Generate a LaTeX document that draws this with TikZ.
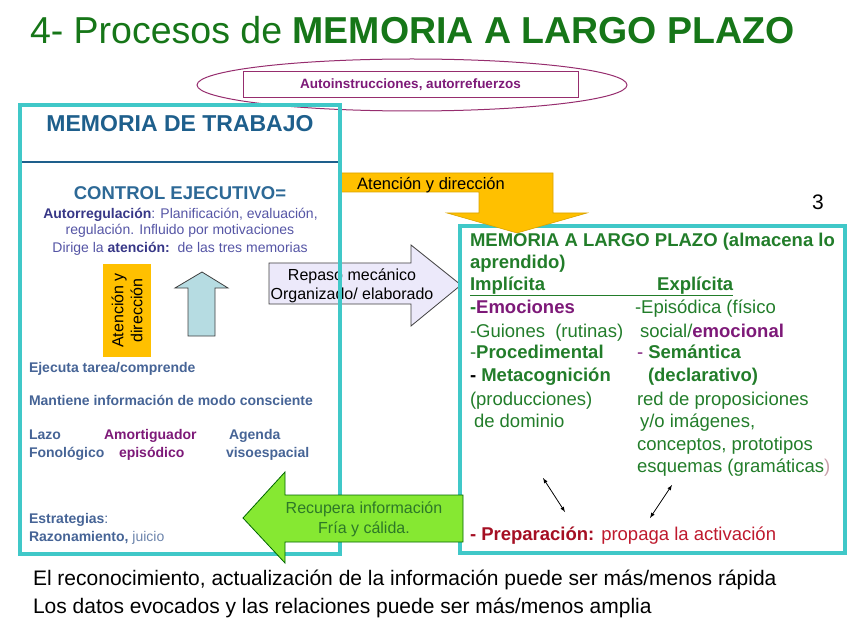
\documentclass[tikz,border=0pt]{standalone}
\usepackage{fontspec}
\setmainfont{Liberation Sans}
\usepackage{tikz}

\definecolor{verdetit}{RGB}{22,118,24}
\definecolor{ciruela}{RGB}{150,45,110}
\definecolor{morado}{RGB}{125,25,120}
\definecolor{turquesa}{RGB}{64,200,200}
\definecolor{azulmt}{RGB}{30,95,140}
\definecolor{azulce}{RGB}{45,105,150}
\definecolor{lila}{RGB}{85,85,165}
\definecolor{lilaosc}{RGB}{55,55,135}
\definecolor{azulgris}{RGB}{70,100,150}
\definecolor{naranja}{RGB}{255,192,0}
\definecolor{celeste}{RGB}{182,220,226}
\definecolor{lavanda}{RGB}{236,233,250}
\definecolor{lima}{RGB}{134,232,50}
\definecolor{verdemlp}{RGB}{34,125,42}
\definecolor{verdeflecha}{RGB}{45,120,40}
\definecolor{rojo}{RGB}{190,25,45}
\definecolor{rojoosc}{RGB}{165,15,35}
\definecolor{rosa}{RGB}{200,160,170}

\newcommand{\tam}[1]{\fontsize{#1}{#1}\selectfont}

\begin{document}
\begin{tikzpicture}[x=1pt,y=-1pt,
    txt/.style={anchor=base west, inner sep=0pt, outer sep=0pt},
    ctxt/.style={anchor=base, inner sep=0pt, outer sep=0pt},
    bloque/.style={draw=black!75, line width=0.8pt, line join=miter}]
\useasboundingbox (0,0) rectangle (848,636);

% titulo
\node[txt, font=\tam{37.5}, text=verdetit] (titulo) at (30,44)
    {4- Procesos de \textbf{MEMORIA A LARGO PLAZO}};

% elipse con autoinstrucciones
\draw[ciruela, line width=1pt] (412,85) ellipse [x radius=215, y radius=26];
\node[draw=ciruela, line width=1pt, fill=white, minimum width=335pt, minimum height=26pt,
      inner sep=0pt, font=\bfseries\tam{13.5}, text=morado] (auto) at (410.5,85)
    {Autoinstrucciones, autorrefuerzos};

% flecha repaso (bajo el borde)
\draw[bloque, fill=lavanda] (269,263) -- (411,263) -- (411,245) -- (461,285)
    -- (411,326) -- (411,304) -- (269,304) -- cycle;
\node[ctxt, font=\tam{16}] (repaso) at (352,280) {Repaso mecánico};
\node[ctxt, font=\tam{16}] (organ) at (352,299) {Organizado/ elaborado};

% memoria a largo plazo
\draw[turquesa, line width=3.5pt] (460,226) rectangle (845,553);

% flecha atencion y direccion
\draw[draw=naranja!85!black, line width=0.6pt, fill=naranja] (341,173) -- (553,173)
    -- (553,213) -- (587,213) -- (517,233) -- (447,213) -- (479,213)
    -- (479,192) -- (341,192) -- cycle;
\node[ctxt, font=\tam{16.5}] (atencion) at (431,190) {Atención y dirección};

% memoria de trabajo
\draw[turquesa, line width=4.5pt] (20,105) rectangle (340,554);
\draw[azulmt, line width=2.5pt] (22,162) -- (338,162);
\node[ctxt, font=\bfseries\tam{23}, text=azulmt] (mt) at (180,132) {MEMORIA DE TRABAJO};
\node[ctxt, font=\bfseries\tam{18.5}, text=azulce] (ce) at (180,200) {CONTROL EJECUTIVO=};
\node[ctxt, font=\tam{14}, text=lila] (ce1) at (180.5,219)
    {\textcolor{lilaosc}{\textbf{Autorregulación}}: Planificación, evaluación,};
\node[ctxt, font=\tam{14}, text=lila] (ce2) at (180,235) {regulación. Influido por motivaciones};
\node[ctxt, font=\tam{14}, text=lila] (ce3) at (180,252)
    {Dirige la \textcolor{lilaosc}{\textbf{atención:}}\ \ de las tres memorias};

% atencion (vertical) y flecha hacia arriba
\node[fill=naranja, rotate=90, minimum width=93pt, minimum height=48pt, inner sep=0pt,
      align=center, font=\fontsize{16}{19}\selectfont] (atdir) at (127,310.5)
    {Atención y\\dirección};
\draw[bloque, fill=celeste] (188,336) -- (188,288) -- (175,288) -- (202,272)
    -- (228,288) -- (215,288) -- (215,336) -- cycle;

% funciones
\begin{scope}[font=\bfseries\tam{14}, text=azulgris]
\node[txt] (ejecuta) at (29,372) {Ejecuta tarea/comprende};
\node[txt] (mantiene) at (29,405) {Mantiene información de modo consciente};
\node[txt] (lazo) at (29,439) {Lazo};
\node[txt, text=morado] (amort) at (104,439) {Amortiguador};
\node[txt] (agenda) at (229,439) {Agenda};
\node[txt] (fono) at (29,457) {Fonológico};
\node[txt, text=morado] (episod) at (119,457) {episódico};
\node[txt] (viso) at (226,457) {visoespacial};
\node[txt] (estrat) at (29,523) {Estrategias\textmd{:}};
\node[txt] (razon) at (29,541) {Razonamiento, \textmd{\textcolor{azulgris!80}{juicio}}};
\end{scope}

% contenido largo plazo
\begin{scope}[font=\tam{18.5}, text=verdemlp]
\node[txt, font=\bfseries\tam{18.5}] (mlp1) at (470,247) {MEMORIA A LARGO PLAZO (almacena lo};
\node[txt, font=\bfseries\tam{18.5}] (mlp2) at (470,269) {aprendido)};
\node[txt] (tipos) at (470,290)
    {\underline{\textbf{Implícita}\hspace{112pt}\textbf{Explícita}}};
\node[txt] (emoc) at (470,313) {\textbf{-\textcolor{morado}{Emociones}}};
\node[txt] (episodica) at (635,313) {-Episódica (físico};
\node[txt] (guiones) at (470,337) {-Guiones\ \ (rutinas)};
\node[txt] (social) at (640,337) {social/\textcolor{morado}{\textbf{emocional}}};
\node[txt] (proced) at (470,358) {-\textbf{Procedimental}};
\node[txt] (seman) at (637,358) {\textcolor{morado}{-} \textbf{Semántica}};
\node[txt] (meta) at (470,381) {\textbf{\textcolor{black}{-} Metacognición}};
\node[txt] (declar) at (648,381) {\textbf{(declarativo)}};
\node[txt] (produc) at (470,405) {(producciones)};
\node[txt] (red) at (637,405) {red de proposiciones};
\node[txt] (dominio) at (474,427) {de dominio};
\node[txt] (imag) at (640,427) {y/o imágenes,};
\node[txt] (concep) at (637,450) {conceptos, prototipos};
\node[txt] (esquem) at (637,472) {esquemas (gramáticas\textcolor{rosa}{)}};
\node[txt, text=rojo] (prep) at (470,540)
    {\textbf{\textcolor{rojoosc}{- Preparación:}} propaga la activación};
\end{scope}

% flechas dobles
\coordinate (a1) at (543,478);
\coordinate (b1) at (565,512);
\coordinate (a2) at (672,485);
\coordinate (b2) at (650,518);
\foreach \i in {1,2}
    \draw[<->, >=latex, line width=0.8pt] (a\i) -- (b\i);

% numero
\node[txt, font=\tam{21}] (num) at (812,210) {3};

% flecha recupera (encima de los bordes)
\draw[draw=black!60!green, line width=0.8pt, fill=lima] (463,495) -- (285,495)
    -- (285,472) -- (243,518) -- (285,563) -- (285,542) -- (463,542) -- cycle;
\node[ctxt, font=\tam{16}, text=verdeflecha] (recup) at (364,513) {Recupera información};
\node[ctxt, font=\tam{16}, text=verdeflecha] (fria) at (364,533) {Fría y cálida.};

% texto inferior
\node[txt, font=\tam{21}] (pie1) at (33,585)
    {El reconocimiento, actualización de la información puede ser más/menos rápida};
\node[txt, font=\tam{21}] (pie2) at (33,613)
    {Los datos evocados y las relaciones puede ser más/menos amplia};
\end{tikzpicture}
\end{document}
